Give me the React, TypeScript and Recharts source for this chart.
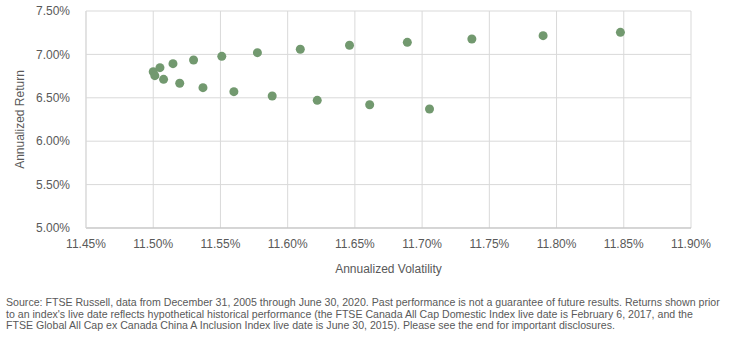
import {
  ScatterChart,
  Scatter,
  XAxis,
  YAxis,
  CartesianGrid,
  Label,
} from "recharts";

/* data (percent units) */
const volatility = [
  11.5, 11.5012, 11.505, 11.5077, 11.5147, 11.5197, 11.53, 11.537, 11.551,
  11.56, 11.5775, 11.5885, 11.6094, 11.622, 11.646, 11.661, 11.689, 11.7055,
  11.737, 11.79, 11.8475,
];

const annualReturn = [
  6.8, 6.755, 6.847, 6.713, 6.893, 6.667, 6.935, 6.617, 6.978, 6.571, 7.02,
  6.521, 7.059, 6.471, 7.105, 6.42, 7.139, 6.371, 7.177, 7.216, 7.254,
];

const xTicks = [11.45, 11.5, 11.55, 11.6, 11.65, 11.7, 11.75, 11.8, 11.85, 11.9];
const yTicks = [5.0, 5.5, 6.0, 6.5, 7.0, 7.5];

// footnote, split as in the reference
const footLines = [
  "Source: FTSE Russell, data from December 31, 2005 through June 30, 2020. Past performance is not a guarantee of future results. Returns shown prior",
  "to an index's live date reflects hypothetical historical performance (the FTSE Canada All Cap Domestic Index live date is February 6, 2017, and the",
  "FTSE Global All Cap ex Canada China A Inclusion Index live date is June 30, 2015). Please see the end for important disclosures.",
];

const points = volatility.map((v, i) => ({ vol: v, ret: annualReturn[i] }));

const FONT = "'Liberation Sans', Arial, sans-serif";
const GREY = "#595959";

const pct = (v: number) => v.toFixed(2) + "%";

const YLabel = (props: any) => {
  const vb = props.viewBox || {};
  const cx = 20;
  const cy = vb.y + vb.height / 2;
  return (
    <text
      x={cx}
      y={cy}
      transform={`rotate(-90, ${cx}, ${cy})`}
      textAnchor="middle"
      dominantBaseline="central"
      fill={GREY}
      fontSize={12}
      fontFamily={FONT}
    >
      Annualized Return
    </text>
  );
};

export default function App() {
  return (
    <div
      style={{
        position: "absolute",
        left: 0,
        top: 0,
        width: 731,
        height: 338,
        background: "#fff",
        fontFamily: FONT,
      }}
    >
      <ScatterChart
        width={731}
        height={285}
        margin={{ top: 11, right: 40, bottom: 0, left: 0 }}
      >
        <CartesianGrid stroke="#d9d9d9" strokeWidth={1} />
        <XAxis
          type="number"
          dataKey="vol"
          domain={[11.45, 11.9]}
          ticks={xTicks}
          tickFormatter={pct}
          axisLine={{ stroke: "#bfbfbf" }}
          tickLine={false}
          tick={{ fill: GREY, fontSize: 12, fontFamily: FONT }}
          tickMargin={5}
          height={57}
          allowDataOverflow
        >
          <Label
            value="Annualized Volatility"
            position="insideBottom"
            offset={12}
            fill={GREY}
            fontSize={12}
            fontFamily={FONT}
          />
        </XAxis>
        <YAxis
          type="number"
          dataKey="ret"
          domain={[5, 7.5]}
          ticks={yTicks}
          tickFormatter={pct}
          axisLine={{ stroke: "#d9d9d9" }}
          tickLine={false}
          tick={{ fill: GREY, fontSize: 12, fontFamily: FONT }}
          tickMargin={10}
          width={86}
          allowDataOverflow
        >
          <Label content={YLabel} />
        </YAxis>
        <Scatter
          data={points}
          fill="#72996f"
          isAnimationActive={false}
          shape={(p: any) => <circle cx={p.cx} cy={p.cy} r={4.5} fill="#72996f" />}
        />
      </ScatterChart>
      <div
        style={{
          position: "absolute",
          left: 6,
          top: 297,
          width: 725,
          fontSize: 10.6,
          lineHeight: "11.7px",
          color: GREY,
          whiteSpace: "nowrap",
        }}
      >
        {footLines.map((line, i) => (
          <div key={i}>{line}</div>
        ))}
      </div>
    </div>
  );
}
